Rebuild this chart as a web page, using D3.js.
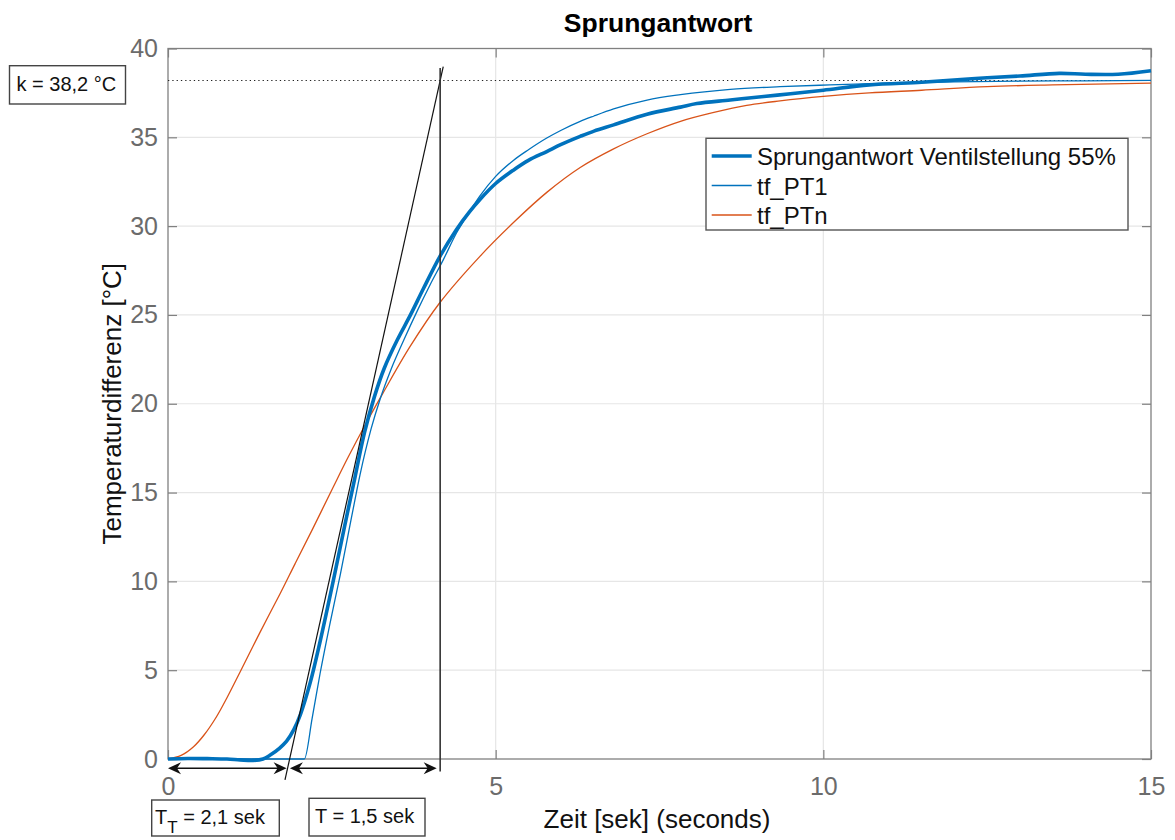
<!DOCTYPE html>
<html>
<head>
<meta charset="utf-8">
<script src="https://cdn.jsdelivr.net/npm/d3@7"></script>
<style>
  html, body { margin: 0; padding: 0; background: #fff; }
  svg { display: block; font-family: "Liberation Sans", Arial, Helvetica, sans-serif; }
</style>
</head>
<body>
<svg id="chart" width="1175" height="840"></svg>
<script>
// ---- Data -------------------------------------------------------------
// Measured step response (valve position 55 %)
const timeMeasured = [0, 0.3, 0.6, 0.9, 1.1, 1.3, 1.45, 1.56, 1.7, 1.81, 1.92, 2.02, 2.17, 2.32, 2.52, 2.7, 2.85, 3.0, 3.15, 3.3, 3.5, 3.7, 3.9, 4.15, 4.4, 4.6, 4.76, 5.0, 5.27, 5.5, 5.78, 6.0, 6.29, 6.5, 6.8, 7.31, 7.82, 8.07, 8.58, 9.09, 9.5, 10.0, 10.7, 11.5, 12.1, 12.5, 13.0, 13.6, 14.0, 14.5, 15.0];
const tempMeasured = [0, 0.03, 0.02, 0, -0.05, -0.08, 0.0, 0.22, 0.6, 1.0, 1.65, 2.5, 4.3, 6.6, 10.0, 13.2, 15.8, 18.4, 20.4, 22.0, 23.6, 25.0, 26.5, 28.3, 29.8, 30.8, 31.5, 32.4, 33.15, 33.7, 34.2, 34.6, 35.05, 35.35, 35.7, 36.3, 36.7, 36.9, 37.1, 37.3, 37.45, 37.65, 37.95, 38.1, 38.25, 38.35, 38.45, 38.6, 38.55, 38.55, 38.75];

// First-order model with dead time
const timePT1 = [0, 2.08, 2.2, 2.32, 2.47, 2.63, 2.8, 2.93, 3.1, 3.24, 3.4, 3.6, 3.8, 4.0, 4.2, 4.4, 4.6, 4.76, 5.0, 5.27, 5.5, 5.78, 6.0, 6.29, 6.5, 6.8, 7.31, 7.82, 8.58, 9.34, 10.1, 11.0, 12.0, 13.0, 14.0, 15.0];
const tempPT1 = [0, 0, 2.3, 4.8, 7.6, 10.4, 13.6, 16.0, 18.6, 20.3, 21.9, 23.6, 25.2, 26.7, 28.1, 29.6, 30.8, 31.7, 32.8, 33.7, 34.3, 34.96, 35.4, 35.9, 36.2, 36.6, 37.1, 37.4, 37.7, 37.85, 37.95, 38.05, 38.12, 38.16, 38.18, 38.2];

// n-th order model
const timePTn = [0, 0.2, 0.39, 0.55, 0.74, 0.9, 1.1, 1.4, 1.71, 1.94, 2.2, 2.52, 2.75, 3.0, 3.28, 3.69, 4.15, 4.76, 5.3, 5.78, 6.29, 6.8, 7.31, 7.82, 8.33, 8.83, 9.34, 10.0, 10.7, 11.5, 12.5, 13.5, 15.0];
const tempPTn = [0, 0.2, 0.69, 1.35, 2.38, 3.45, 4.9, 7.1, 9.3, 11.0, 12.9, 15.3, 17.0, 18.75, 20.6, 23.2, 25.7, 28.3, 30.3, 31.9, 33.3, 34.35, 35.2, 35.9, 36.4, 36.8, 37.05, 37.3, 37.5, 37.65, 37.85, 37.95, 38.05];

// Axis ticks
const xTicks = [0, 5, 10, 15];
const yTicks = [0, 5, 10, 15, 20, 25, 30, 35, 40];

// Legend entries
const seriesNames = ["Sprungantwort Ventilstellung 55%", "tf_PT1", "tf_PTn"];

// Graphical evaluation (tangent construction)
const gainK = 38.2;
const tangentTime = [1.785, 4.20];
const tangentTemp = [-1.18, 38.98];
const endTime = 4.153;
const endLineTemp = [-0.7, 38.9];
const arrowTemp = -0.52;
const deadTimeSpan = [0, 1.81];
const timeConstSpan = [1.86, 4.10];
const kLabel = "k = 38,2 °C";
const deadTimeLabel = ["T", "T", " = 2,1 sek"];
const timeConstLabel = "T = 1,5 sek";

// ---- Layout -----------------------------------------------------------
const svg = d3.select("#chart");
const x = d3.scaleLinear().domain([0, 15]).range([168, 1151]);
const y = d3.scaleLinear().domain([0, 40]).range([759, 48.5]);
const blue = "#0072BD", orange = "#D95319";
const axisGray = "#808080", tickText = "#6b6b6b";

// Grid
const grid = svg.append("g");
grid.selectAll("line.gx").data(xTicks.slice(1, -1)).join("line")
  .attr("x1", d => x(d)).attr("x2", d => x(d))
  .attr("y1", y(0)).attr("y2", y(40))
  .attr("stroke", "#e6e6e6").attr("stroke-width", 1.2);
grid.selectAll("line.gy").data(yTicks.slice(1, -1)).join("line")
  .attr("y1", d => y(d)).attr("y2", d => y(d))
  .attr("x1", x(0)).attr("x2", x(15))
  .attr("stroke", "#e6e6e6").attr("stroke-width", 1.2);

// Axes (ticks inward, box on)
function styleAxis(g) {
  g.select(".domain").remove();
  g.selectAll(".tick line").attr("stroke", axisGray).attr("stroke-width", 1.2);
  g.selectAll(".tick text").attr("fill", tickText).attr("font-size", 25);
}
svg.append("g").attr("transform", `translate(0,${y(0)})`)
  .call(d3.axisBottom(x).tickValues(xTicks).tickSizeInner(-9).tickSizeOuter(0).tickPadding(18).tickFormat(d3.format("d")))
  .call(styleAxis);
svg.append("g").attr("transform", `translate(0,${y(40)})`)
  .call(d3.axisTop(x).tickValues(xTicks).tickSizeInner(-9).tickSizeOuter(0).tickFormat(""))
  .call(styleAxis);
svg.append("g").attr("transform", `translate(${x(0)},0)`)
  .call(d3.axisLeft(y).tickValues(yTicks).tickSizeInner(-9).tickSizeOuter(0).tickPadding(10).tickFormat(d3.format("d")))
  .call(styleAxis);
svg.append("g").attr("transform", `translate(${x(15)},0)`)
  .call(d3.axisRight(y).tickValues(yTicks).tickSizeInner(-9).tickSizeOuter(0).tickFormat(""))
  .call(styleAxis);
svg.append("rect")
  .attr("x", x(0)).attr("y", y(40))
  .attr("width", x(15) - x(0)).attr("height", y(0) - y(40))
  .attr("fill", "none").attr("stroke", axisGray).attr("stroke-width", 1.3);

// Steady-state level k
svg.append("line")
  .attr("x1", x(0)).attr("x2", x(15))
  .attr("y1", y(gainK)).attr("y2", y(gainK))
  .attr("stroke", "#222").attr("stroke-width", 1.1).attr("stroke-dasharray", "1.3,3");

// Curves
const smooth = d3.line().x(d => x(d[0])).y(d => y(d[1])).curve(d3.curveCatmullRom.alpha(0.5));
const monotone = d3.line().x(d => x(d[0])).y(d => y(d[1])).curve(d3.curveMonotoneX);
const zip = (a, b) => a.map((v, i) => [v, b[i]]);
svg.append("path").datum(zip(timePTn, tempPTn)).attr("d", smooth)
  .attr("fill", "none").attr("stroke", orange).attr("stroke-width", 1.3);
svg.append("path").datum(zip(timeMeasured, tempMeasured)).attr("d", smooth)
  .attr("fill", "none").attr("stroke", blue).attr("stroke-width", 3.6).attr("stroke-linejoin", "round");
svg.append("path").datum(zip(timePT1, tempPT1)).attr("d", monotone)
  .attr("fill", "none").attr("stroke", blue).attr("stroke-width", 1.3);

// Inflection tangent and end-of-rise marker
svg.append("line")
  .attr("x1", x(tangentTime[0])).attr("y1", y(tangentTemp[0]))
  .attr("x2", x(tangentTime[1])).attr("y2", y(tangentTemp[1]))
  .attr("stroke", "#111").attr("stroke-width", 1.2);
svg.append("line")
  .attr("x1", x(endTime)).attr("x2", x(endTime))
  .attr("y1", y(endLineTemp[0])).attr("y2", y(endLineTemp[1]))
  .attr("stroke", "#333").attr("stroke-width", 1.6);

// Double arrows below the axis
function doubleArrow(t0, t1) {
  const g = svg.append("g");
  const ay = y(arrowTemp), xa = x(t0), xb = x(t1);
  g.append("line").attr("x1", xa + 6).attr("x2", xb - 6).attr("y1", ay).attr("y2", ay)
    .attr("stroke", "#111").attr("stroke-width", 1.3);
  const head = (tip, dir) => {
    const L = 13, W = 6, N = 9;
    return `M${tip},${ay} L${tip + dir * L},${ay - W} L${tip + dir * N},${ay} L${tip + dir * L},${ay + W} Z`;
  };
  g.append("path").attr("d", head(xa, 1)).attr("fill", "#111");
  g.append("path").attr("d", head(xb, -1)).attr("fill", "#111");
}
doubleArrow(deadTimeSpan[0], deadTimeSpan[1]);
doubleArrow(timeConstSpan[0], timeConstSpan[1]);

// Text boxes
function textBox(bx, by, bw, bh) {
  svg.append("rect").attr("x", bx).attr("y", by).attr("width", bw).attr("height", bh)
    .attr("fill", "#fff").attr("stroke", "#444").attr("stroke-width", 1.4);
}
textBox(9.5, 65.7, 116, 38.3);
svg.append("text").attr("x", 16.5).attr("y", 90.7).attr("font-size", 20).attr("fill", "#111").text(kLabel);

textBox(151.7, 800, 127.6, 36);
const tt = svg.append("text").attr("x", 155).attr("y", 823.5).attr("font-size", 20).attr("fill", "#111");
tt.append("tspan").text(deadTimeLabel[0]);
tt.append("tspan").attr("dy", 9).attr("font-size", 17).text(deadTimeLabel[1]);
tt.append("tspan").attr("dy", -9).text(deadTimeLabel[2]);

textBox(309, 798.3, 116, 37.7);
svg.append("text").attr("x", 315).attr("y", 823).attr("font-size", 20).attr("fill", "#111").text(timeConstLabel);

// Legend
const legend = svg.append("g");
legend.append("rect").attr("x", 706).attr("y", 138.3).attr("width", 422).attr("height", 91.7)
  .attr("fill", "#fff").attr("stroke", "#555").attr("stroke-width", 1.4);
const legendRows = [
  { name: seriesNames[0], color: blue, width: 3.6, yy: 156 },
  { name: seriesNames[1], color: blue, width: 1.3, yy: 185.5 },
  { name: seriesNames[2], color: orange, width: 1.3, yy: 215 }
];
legendRows.forEach(r => {
  legend.append("line").attr("x1", 711.7).attr("x2", 751.7).attr("y1", r.yy).attr("y2", r.yy)
    .attr("stroke", r.color).attr("stroke-width", r.width);
  legend.append("text").attr("x", 757).attr("y", r.yy + 9).attr("font-size", 24).attr("fill", "#111").text(r.name);
});

// Titles
svg.append("text").attr("x", 658).attr("y", 32).attr("text-anchor", "middle")
  .attr("font-size", 26.5).attr("font-weight", "bold").attr("fill", "#000").text("Sprungantwort");
svg.append("text").attr("x", 657).attr("y", 828).attr("text-anchor", "middle")
  .attr("font-size", 26).attr("fill", "#111").text("Zeit [sek] (seconds)");
svg.append("text").attr("transform", `translate(121,${(y(0) + y(40)) / 2}) rotate(-90)`)
  .attr("text-anchor", "middle").attr("font-size", 26).attr("fill", "#111").text("Temperaturdifferenz [°C]");
</script>
</body>
</html>
